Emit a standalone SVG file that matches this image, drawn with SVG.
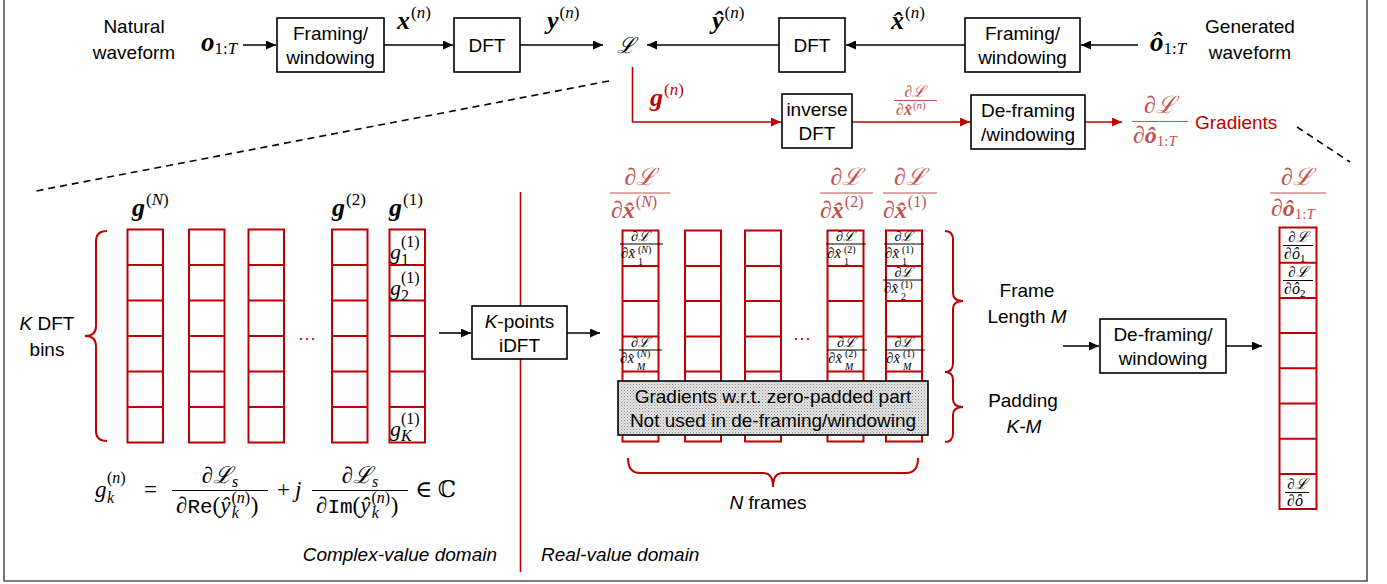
<svg xmlns="http://www.w3.org/2000/svg" width="1387" height="584" viewBox="0 0 1387 584">
<style>
.sans{font-family:"Liberation Sans",Arial,sans-serif;font-size:19px}
.it{font-style:italic}
.m{font-family:"Liberation Serif","DejaVu Serif",serif}
.bi{font-style:italic;font-weight:bold}
.tt{font-family:"Liberation Mono","DejaVu Sans Mono",monospace}
.blk{fill:#000}
.red{fill:#c00000}
.lred{fill:#c0504d}
.box{fill:#fff;stroke:#000;stroke-width:1.6}
.cell{fill:none;stroke:#c00000;stroke-width:2}
.ln{stroke:#000;stroke-width:1.6;fill:none}
.rln{stroke:#c00000;stroke-width:1.6;fill:none}
.fl{stroke:#000;stroke-width:1}
.rfl{stroke:#c0504d;stroke-width:1.2}
.dash{stroke:#000;stroke-width:1.6;stroke-dasharray:7,5;fill:none}
</style>
<defs>
<marker id="ah" markerUnits="userSpaceOnUse" markerWidth="10" markerHeight="9" refX="10" refY="4.5" orient="auto"><path d="M0,0 L10,4.5 L0,9 z" fill="#000"/></marker>
<marker id="ahr" markerUnits="userSpaceOnUse" markerWidth="10" markerHeight="9" refX="10" refY="4.5" orient="auto"><path d="M0,0 L10,4.5 L0,9 z" fill="#c00000"/></marker>
<pattern id="dots" width="3" height="3" patternUnits="userSpaceOnUse"><rect width="3" height="3" fill="#e4e4e4"/><rect width="1" height="1" fill="#8a8a8a"/><rect x="1.5" y="1.5" width="1" height="1" fill="#a8a8a8"/></pattern>
</defs>

<!-- frame -->
<path d="M4,0 V581 H1367 V0" fill="none" stroke="#555" stroke-width="1.6"/>

<!-- connectors -->
<g id="connectors">
<line class="ln" x1="243" y1="45" x2="276" y2="45" marker-end="url(#ah)"/>
<line class="ln" x1="384" y1="45" x2="453" y2="45" marker-end="url(#ah)"/>
<line class="ln" x1="520" y1="45" x2="603" y2="45" marker-end="url(#ah)"/>
<line class="ln" x1="779" y1="45" x2="647" y2="45" marker-end="url(#ah)"/>
<line class="ln" x1="965" y1="45" x2="846" y2="45" marker-end="url(#ah)"/>
<line class="ln" x1="1138" y1="45" x2="1081" y2="45" marker-end="url(#ah)"/>
<polyline class="rln" points="632.5,67 632.5,122 781,122" marker-end="url(#ahr)"/>
<line class="rln" x1="852" y1="122" x2="970" y2="122" marker-end="url(#ahr)"/>
<line class="rln" x1="1085" y1="122" x2="1122" y2="122" marker-end="url(#ahr)"/>
<line class="dash" x1="1297" y1="127" x2="1350" y2="162"/>
<line class="dash" x1="609" y1="81" x2="36" y2="191"/>
<line x1="520.5" y1="192" x2="520.5" y2="572" stroke="#c00000" stroke-width="1.6"/>
<line class="ln" x1="439" y1="333" x2="471" y2="333" marker-end="url(#ah)"/>
<line class="ln" x1="567" y1="333" x2="600" y2="333" marker-end="url(#ah)"/>
<line class="ln" x1="1063" y1="346" x2="1099" y2="346" marker-end="url(#ah)"/>
<line class="ln" x1="1226" y1="346" x2="1262" y2="346" marker-end="url(#ah)"/>
</g>

<!-- top row labels -->
<g id="natural">
<text class="sans blk" x="134" y="33" text-anchor="middle">Natural</text>
<text class="sans blk" x="134" y="59" text-anchor="middle">waveform</text>
<text class="m blk" x="201" y="51" font-size="27"><tspan class="bi">o</tspan><tspan font-size="17" dy="3">1:<tspan class="it">T</tspan></tspan></text>
</g>
<g id="framing1">
<rect class="box" x="277" y="18" width="107" height="54"/>
<text class="sans blk" x="330.5" y="40" text-anchor="middle">Framing/</text>
<text class="sans blk" x="330.5" y="64" text-anchor="middle">windowing</text>
</g>
<g id="lbl-x"><text class="m blk" x="397" y="29" font-size="26"><tspan class="bi">x</tspan><tspan font-size="17" dy="-11" dx="1">(<tspan class="it">n</tspan>)</tspan></text></g>
<g id="dft1">
<rect class="box" x="454" y="18" width="66" height="54"/>
<text class="sans blk" x="487" y="52" text-anchor="middle">DFT</text>
</g>
<g id="lbl-y"><text class="m blk" x="547" y="29" font-size="26"><tspan class="bi">y</tspan><tspan font-size="17" dy="-11" dx="1">(<tspan class="it">n</tspan>)</tspan></text></g>
<g id="loss"><text class="m it blk" x="626" y="53" font-size="22" text-anchor="middle">ℒ</text></g>
<g id="lbl-yhat"><text class="m blk" x="712" y="29" font-size="26"><tspan class="bi">ŷ</tspan><tspan font-size="17" dy="-11" dx="1">(<tspan class="it">n</tspan>)</tspan></text></g>
<g id="dft2">
<rect class="box" x="779" y="18" width="66" height="54"/>
<text class="sans blk" x="812" y="52" text-anchor="middle">DFT</text>
</g>
<g id="lbl-xhat"><text class="m blk" x="891" y="29" font-size="26"><tspan class="bi">x̂</tspan><tspan font-size="17" dy="-11" dx="1">(<tspan class="it">n</tspan>)</tspan></text></g>
<g id="framing2">
<rect class="box" x="965" y="18" width="115" height="54"/>
<text class="sans blk" x="1022.5" y="40" text-anchor="middle">Framing/</text>
<text class="sans blk" x="1022.5" y="64" text-anchor="middle">windowing</text>
</g>
<g id="generated">
<text class="m blk" x="1150" y="51" font-size="27"><tspan class="bi">ô</tspan><tspan font-size="17" dy="3">1:<tspan class="it">T</tspan></tspan></text>
<text class="sans blk" x="1250" y="33" text-anchor="middle">Generated</text>
<text class="sans blk" x="1250" y="59" text-anchor="middle">waveform</text>
</g>

<!-- gradient path -->
<g id="lbl-g"><text class="m red" x="650" y="106" font-size="26"><tspan class="bi">g</tspan><tspan font-size="17" dy="-11" dx="1">(<tspan class="it">n</tspan>)</tspan></text></g>
<g id="idft">
<rect class="box" x="782" y="94" width="70" height="54"/>
<text class="sans blk" x="817" y="116" text-anchor="middle">inverse</text>
<text class="sans blk" x="817" y="140" text-anchor="middle">DFT</text>
</g>
<g id="lbl-dxn">
<text class="m lred it" x="915" y="97" font-size="16" text-anchor="middle">∂ℒ</text>
<line class="rfl" x1="894" y1="100.5" x2="937" y2="100.5"/>
<text class="m lred" x="896" y="115" font-size="16"><tspan>∂</tspan><tspan class="bi">x̂</tspan><tspan font-size="11" dy="-6" dx="1">(<tspan class="it">n</tspan>)</tspan></text>
</g>
<g id="deframing1">
<rect class="box" x="971" y="95" width="114" height="54"/>
<text class="sans blk" x="1028" y="117" text-anchor="middle">De-framing</text>
<text class="sans blk" x="1028" y="141" text-anchor="middle">/windowing</text>
</g>
<g id="grad-out">
<text class="m lred it" x="1160" y="113" font-size="24" text-anchor="middle">∂ℒ</text>
<line class="rfl" x1="1132" y1="121.5" x2="1188" y2="121.5"/>
<text class="m lred" x="1133" y="143" font-size="24"><tspan>∂</tspan><tspan class="bi">ô</tspan><tspan font-size="15" dy="3">1:<tspan class="it">T</tspan></tspan></text>
<text class="sans red" x="1195" y="129">Gradients</text>
</g>

<!-- complex-value domain columns -->
<g id="col-gN">
<text class="m blk" x="132" y="216" font-size="26"><tspan class="bi">g</tspan><tspan font-size="17" dy="-11" dx="1">(<tspan class="it">N</tspan>)</tspan></text>
<rect class="cell" x="127.5" y="229.5" width="35.5" height="213"/>
<path class="cell" d="M127.5,265h35.5M127.5,300.5h35.5M127.5,336h35.5M127.5,371.5h35.5M127.5,407h35.5"/>
</g>
<g id="col-g3">
<rect class="cell" x="189" y="229.5" width="35.5" height="213"/>
<path class="cell" d="M189,265h35.5M189,300.5h35.5M189,336h35.5M189,371.5h35.5M189,407h35.5"/>
</g>
<g id="col-g4">
<rect class="cell" x="248.5" y="229.5" width="35.5" height="213"/>
<path class="cell" d="M248.5,265h35.5M248.5,300.5h35.5M248.5,336h35.5M248.5,371.5h35.5M248.5,407h35.5"/>
</g>
<text class="sans red" x="307" y="340" text-anchor="middle" font-size="16">…</text>
<g id="col-g2">
<text class="m blk" x="332" y="216" font-size="26"><tspan class="bi">g</tspan><tspan font-size="17" dy="-11" dx="1">(2)</tspan></text>
<rect class="cell" x="332" y="229.5" width="35.5" height="213"/>
<path class="cell" d="M332,265h35.5M332,300.5h35.5M332,336h35.5M332,371.5h35.5M332,407h35.5"/>
</g>
<g id="col-g1">
<text class="m blk" x="389" y="216" font-size="26"><tspan class="bi">g</tspan><tspan font-size="17" dy="-11" dx="1">(1)</tspan></text>
<rect class="cell" x="389.5" y="229.5" width="35.5" height="213"/>
<path class="cell" d="M389.5,265h35.5M389.5,300.5h35.5M389.5,336h35.5M389.5,371.5h35.5M389.5,407h35.5"/>
<text class="m it blk" x="390" y="259" font-size="22">g</text><text class="m blk" x="401" y="247" font-size="16">(1)</text><text class="m blk" x="401" y="265" font-size="16">1</text>
<text class="m it blk" x="390" y="294.5" font-size="22">g</text><text class="m blk" x="401" y="282.5" font-size="16">(1)</text><text class="m blk" x="401" y="300.5" font-size="16">2</text>
<text class="m it blk" x="390" y="436" font-size="22">g</text><text class="m blk" x="401" y="424" font-size="16">(1)</text><text class="m it blk" x="401" y="441" font-size="16">K</text>
</g>
<g id="kbins">
<path class="cell" d="M107,231 Q96,231 96,241 V326 Q96,336 85,336 Q96,336 96,346 V431 Q96,441 107,441"/>
<text class="sans blk" x="47" y="330" text-anchor="middle"><tspan class="it">K</tspan> DFT</text>
<text class="sans blk" x="47" y="356" text-anchor="middle">bins</text>
</g>
<g id="kidft">
<rect class="box" x="472" y="306" width="95" height="53"/>
<text class="sans blk" x="519.5" y="328" text-anchor="middle"><tspan class="it">K</tspan>-points</text>
<text class="sans blk" x="519.5" y="352" text-anchor="middle">iDFT</text>
</g>
<g id="formula">
<text class="m it blk" x="95" y="497" font-size="23">g</text>
<text class="m blk" x="107" y="483" font-size="16">(<tspan class="it">n</tspan>)</text>
<text class="m it blk" x="107" y="503" font-size="16">k</text>
<text class="m blk" x="144" y="497" font-size="23">=</text>
<text class="m blk" x="220" y="483" font-size="23" text-anchor="middle"><tspan>∂</tspan><tspan class="it">ℒ</tspan><tspan class="it" font-size="16" dy="4">s</tspan></text>
<line class="fl" x1="172" y1="490.5" x2="268" y2="490.5"/>
<text class="m blk" x="176" y="513" font-size="23">∂<tspan class="tt" font-size="21">Re</tspan>(<tspan class="it">ŷ</tspan><tspan font-size="16" dy="-10" dx="1">(<tspan class="it">n</tspan>)</tspan><tspan class="it" font-size="16" dx="-18.5" dy="15">k</tspan><tspan dx="12" dy="-5">)</tspan></text>
<text class="m blk" x="277" y="497" font-size="23">+</text>
<text class="m it blk" x="295" y="497" font-size="23">j</text>
<text class="m blk" x="360" y="483" font-size="23" text-anchor="middle"><tspan>∂</tspan><tspan class="it">ℒ</tspan><tspan class="it" font-size="16" dy="4">s</tspan></text>
<line class="fl" x1="312" y1="490.5" x2="408" y2="490.5"/>
<text class="m blk" x="316" y="513" font-size="23">∂<tspan class="tt" font-size="21">Im</tspan>(<tspan class="it">ŷ</tspan><tspan font-size="16" dy="-10" dx="1">(<tspan class="it">n</tspan>)</tspan><tspan class="it" font-size="16" dx="-18.5" dy="15">k</tspan><tspan dx="12" dy="-5">)</tspan></text>
<text class="m blk" x="415" y="497" font-size="23">∈ ℂ</text>
</g>
<text class="sans it blk" x="497" y="561" text-anchor="end" font-size="18">Complex-value domain</text>
<text class="sans it blk" x="541" y="561" font-size="18">Real-value domain</text>

<!-- real-value domain columns -->
<g id="col-xN">
<text class="m lred it" x="640.5" y="185" font-size="24" text-anchor="middle">∂ℒ</text>
<line class="rfl" x1="610" y1="193" x2="670" y2="193"/>
<text class="m lred" x="611" y="218" font-size="24"><tspan>∂</tspan><tspan class="bi">x̂</tspan><tspan font-size="16" dy="-11" dx="1">(<tspan class="it">N</tspan>)</tspan></text>
<rect class="cell" x="622.5" y="230.5" width="36" height="211"/>
<path class="cell" d="M622.5,266h36M622.5,301h36M622.5,336.5h36M622.5,371.5h36M622.5,406.5h36"/>
<text class="m it blk" x="640.5" y="241" font-size="14" text-anchor="middle">∂ℒ</text>
<line class="fl" x1="620" y1="244" x2="663" y2="244"/>
<text class="m blk" x="621" y="258" font-size="15">∂<tspan class="it">x̂</tspan></text>
<text class="m blk" x="638" y="252.5" font-size="10">(<tspan class="it">N</tspan>)</text><text class="m blk" x="638" y="265" font-size="10">1</text>
<text class="m it blk" x="640.5" y="347" font-size="14" text-anchor="middle">∂ℒ</text>
<line class="fl" x1="619" y1="350" x2="662" y2="350"/>
<text class="m blk" x="620" y="363" font-size="15">∂<tspan class="it">x̂</tspan></text>
<text class="m blk" x="637" y="357" font-size="10">(<tspan class="it">N</tspan>)</text><text class="m it blk" x="637" y="369.5" font-size="10">M</text>
</g>
<g id="col-x3">
<rect class="cell" x="685" y="230.5" width="36" height="211"/>
<path class="cell" d="M685,266h36M685,301h36M685,336.5h36M685,371.5h36M685,406.5h36"/>
</g>
<g id="col-x4">
<rect class="cell" x="745" y="230.5" width="36" height="211"/>
<path class="cell" d="M745,266h36M745,301h36M745,336.5h36M745,371.5h36M745,406.5h36"/>
</g>
<text class="sans red" x="802" y="340" text-anchor="middle" font-size="16">…</text>
<g id="col-x2">
<text class="m lred it" x="846.5" y="185" font-size="24" text-anchor="middle">∂ℒ</text>
<line class="rfl" x1="820" y1="193" x2="873" y2="193"/>
<text class="m lred" x="820" y="218" font-size="24"><tspan>∂</tspan><tspan class="bi">x̂</tspan><tspan font-size="16" dy="-11" dx="1">(2)</tspan></text>
<rect class="cell" x="827.5" y="230.5" width="36" height="211"/>
<path class="cell" d="M827.5,266h36M827.5,301h36M827.5,336.5h36M827.5,371.5h36M827.5,406.5h36"/>
<text class="m it blk" x="845.5" y="241" font-size="14" text-anchor="middle">∂ℒ</text>
<line class="fl" x1="826" y1="244" x2="866" y2="244"/>
<text class="m blk" x="827" y="258" font-size="15">∂<tspan class="it">x̂</tspan></text>
<text class="m blk" x="844" y="252.5" font-size="10">(2)</text><text class="m blk" x="844" y="265" font-size="10">1</text>
<text class="m it blk" x="846.5" y="347" font-size="14" text-anchor="middle">∂ℒ</text>
<line class="fl" x1="827" y1="350" x2="867" y2="350"/>
<text class="m blk" x="828" y="363" font-size="15">∂<tspan class="it">x̂</tspan></text>
<text class="m blk" x="845" y="357" font-size="10">(2)</text><text class="m it blk" x="845" y="369.5" font-size="10">M</text>
</g>
<g id="col-x1">
<text class="m lred it" x="910" y="185" font-size="24" text-anchor="middle">∂ℒ</text>
<line class="rfl" x1="883" y1="193" x2="937" y2="193"/>
<text class="m lred" x="883" y="218" font-size="24"><tspan>∂</tspan><tspan class="bi">x̂</tspan><tspan font-size="16" dy="-11" dx="1">(1)</tspan></text>
<rect class="cell" x="886" y="230.5" width="36" height="211"/>
<path class="cell" d="M886,266h36M886,301h36M886,336.5h36M886,371.5h36M886,406.5h36"/>
<text class="m it blk" x="904" y="241" font-size="14" text-anchor="middle">∂ℒ</text>
<line class="fl" x1="884" y1="244" x2="924" y2="244"/>
<text class="m blk" x="885" y="258" font-size="15">∂<tspan class="it">x̂</tspan></text>
<text class="m blk" x="902" y="252.5" font-size="10">(1)</text><text class="m blk" x="902" y="265" font-size="10">1</text>
<text class="m it blk" x="904" y="277" font-size="14" text-anchor="middle">∂ℒ</text>
<line class="fl" x1="883" y1="280" x2="923" y2="280"/>
<text class="m blk" x="884" y="293" font-size="15">∂<tspan class="it">x̂</tspan></text>
<text class="m blk" x="901" y="287.5" font-size="10">(1)</text><text class="m blk" x="901" y="300" font-size="10">2</text>
<text class="m it blk" x="904" y="347" font-size="14" text-anchor="middle">∂ℒ</text>
<line class="fl" x1="885" y1="350" x2="925" y2="350"/>
<text class="m blk" x="886" y="363" font-size="15">∂<tspan class="it">x̂</tspan></text>
<text class="m blk" x="903" y="357" font-size="10">(1)</text><text class="m it blk" x="903" y="369.5" font-size="10">M</text>
</g>
<g id="zero-pad">
<rect x="618" y="381" width="310" height="54" fill="url(#dots)" stroke="#000" stroke-width="1.6"/>
<text class="sans blk" x="773" y="403" text-anchor="middle" font-size="17">Gradients w.r.t. zero-padded part</text>
<text class="sans blk" x="773" y="427" text-anchor="middle" font-size="17">Not used in de-framing/windowing</text>
</g>
<g id="braces-right">
<path class="cell" d="M945,231 Q953,231 953,240 V293 Q953,301 963,301 Q953,301 953,309 V363 Q953,372 945,372"/>
<path class="cell" d="M945,372 Q953,372 953,380 V399 Q953,407 963,407 Q953,407 953,415 V433 Q953,442 945,442"/>
<text class="sans blk" x="1027" y="297" text-anchor="middle">Frame</text>
<text class="sans blk" x="1027" y="323" text-anchor="middle">Length <tspan class="it">M</tspan></text>
<text class="sans blk" x="1023" y="407" text-anchor="middle">Padding</text>
<text class="sans it blk" x="1024" y="433" text-anchor="middle">K-M</text>
</g>
<g id="nframes">
<path class="cell" d="M628,458 Q628,473 640,473 H763 Q773,473 773,487 Q773,473 783,473 H906 Q918,473 918,458"/>
<text class="sans blk" x="768" y="509" text-anchor="middle"><tspan class="it">N</tspan> frames</text>
</g>
<g id="deframing2">
<rect class="box" x="1100" y="319" width="126" height="54"/>
<text class="sans blk" x="1163" y="341" text-anchor="middle">De-framing/</text>
<text class="sans blk" x="1163" y="365" text-anchor="middle">windowing</text>
</g>
<g id="col-o">
<text class="m lred it" x="1297" y="185" font-size="24" text-anchor="middle">∂ℒ</text>
<line class="rfl" x1="1270" y1="193" x2="1326" y2="193"/>
<text class="m lred" x="1271" y="216" font-size="24"><tspan>∂</tspan><tspan class="bi">ô</tspan><tspan font-size="15" dy="3">1:<tspan class="it">T</tspan></tspan></text>
<rect class="cell" x="1279.5" y="227.5" width="37" height="281.5"/>
<path class="cell" d="M1279.5,262.7h37M1279.5,297.9h37M1279.5,333.1h37M1279.5,368.3h37M1279.5,403.5h37M1279.5,438.7h37M1279.5,473.9h37"/>
<text class="m it blk" x="1298" y="242" font-size="15" text-anchor="middle">∂ℒ</text>
<line class="fl" x1="1283" y1="245.5" x2="1313" y2="245.5"/>
<text class="m blk" x="1284" y="259" font-size="16">∂<tspan class="it">ô</tspan><tspan font-size="11" dy="3">1</tspan></text>
<text class="m it blk" x="1298" y="277" font-size="15" text-anchor="middle">∂ℒ</text>
<line class="fl" x1="1283" y1="280.5" x2="1313" y2="280.5"/>
<text class="m blk" x="1284" y="294" font-size="16">∂<tspan class="it">ô</tspan><tspan font-size="11" dy="3">2</tspan></text>
<text class="m it blk" x="1297" y="489" font-size="15" text-anchor="middle">∂ℒ</text>
<line class="fl" x1="1285" y1="492.5" x2="1309" y2="492.5"/>
<text class="m blk" x="1287" y="506" font-size="16">∂<tspan class="it">ô</tspan></text>
</g>
</svg>
